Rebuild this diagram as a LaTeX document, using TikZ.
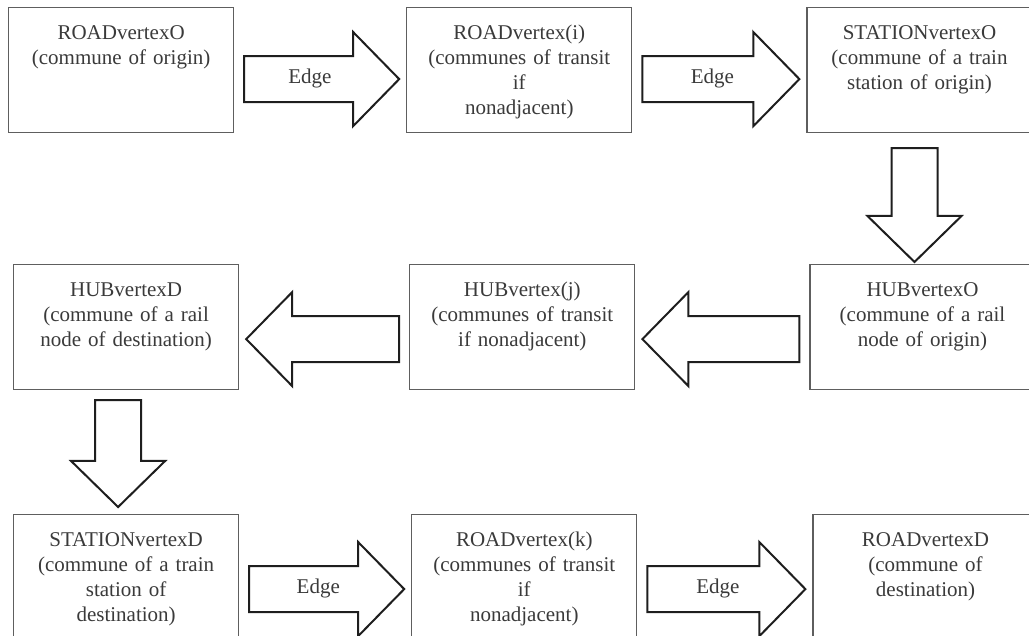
\documentclass[tikz,border=0pt]{standalone}
\usepackage{fontspec}
\setmainfont{Liberation Serif}
\usepackage{tikz}
\usetikzlibrary{calc, positioning}
\definecolor{boxGrey}{HTML}{5E5E5E}
\definecolor{inkDark}{HTML}{1E1E1E}
\definecolor{textGrey}{HTML}{3A3A3A}
\tikzset{
  vbox/.style    = {draw=boxGrey, line width=1.2pt, fill=white, align=center,
                    font=\fontsize{21}{25}\selectfont, text=textGrey,
                    text width=217pt, text height=29pt, text depth=90pt,
                    inner xsep=4pt, inner ysep=3pt},
  fat/.style     = {draw=inkDark, line width=2pt, fill=white,
                    to path={
                      ($(\tikztostart)!10pt!(\tikztotarget)$) coordinate (fs)
                      ($(\tikztotarget)!7pt!(\tikztostart)$) coordinate (ft)
                      ($(ft)!46pt!(fs)$) coordinate (fb)
                      ($(fs)!23pt!90:(ft)$) -- ($(fb)!23pt!90:(ft)$)
                      -- ($(fb)!47pt!90:(ft)$) -- (ft)
                      -- ($(fb)!47pt!-90:(ft)$) -- ($(fb)!23pt!-90:(ft)$)
                      -- ($(fs)!23pt!-90:(ft)$) -- cycle}},
  edgelbl/.style = {font=\fontsize{21}{25}\selectfont, text=textGrey, inner sep=1pt}
}
\begin{document}
\begin{tikzpicture}[x=1pt, y=1pt]
  \useasboundingbox (0,0) rectangle (1029,-636);
  % first row
  \node[vbox, anchor=north west] (ro) at (8,-7) {ROADvertexO\\(commune of origin)};
  \node[vbox, right=172pt of ro] (ri) {ROADvertex(i)\\(communes of transit\\if\\nonadjacent)};
  \node[vbox, right=174pt of ri] (so) {STATIONvertexO\\(commune of a train\\station of origin)};
  % second row
  \node[vbox, anchor=north west] (hd) at (13,-264) {HUBvertexD\\(commune of a rail\\node of destination)};
  \node[vbox, right=170pt of hd] (hj) {HUBvertex(j)\\(communes of transit\\if nonadjacent)};
  \node[vbox, right=174pt of hj] (ho) {HUBvertexO\\(commune of a rail\\node of origin)};
  % third row
  \node[vbox, anchor=north west] (sd) at (13,-514) {STATIONvertexD\\(commune of a train\\station of\\destination)};
  \node[vbox, right=172pt of sd] (rk) {ROADvertex(k)\\(communes of transit\\if\\nonadjacent)};
  \node[vbox, right=175pt of rk] (rd) {ROADvertexD\\(commune of\\destination)};
  % block arrows
  \draw[fat] ([yshift=-9pt]ro.east) to ([yshift=-9pt]ri.west);
  \draw[fat] ([yshift=-9pt]ri.east) to ([yshift=-9pt]so.west);
  \draw[fat] ([xshift=-5pt, yshift=-5pt]so.south) to ([xshift=-5pt, yshift=-5pt]so.south |- ho.north);
  \draw[fat] ([yshift=-12pt]ho.west) to ([yshift=-12pt]hj.east);
  \draw[fat] ([yshift=-12pt]hj.west) to ([yshift=-12pt]hd.east);
  \draw[fat] ([xshift=-8pt]hd.south) to ([xshift=-8pt]sd.north);
  \draw[fat] ([yshift=-12pt]sd.east) to ([yshift=-12pt]rk.west);
  \draw[fat] ([yshift=-12pt]rk.east) to ([yshift=-12pt]rd.west);
  % labels on the arrows
  \node[edgelbl] (e1) at ($([yshift=-8pt]ro.east)!.44!([yshift=-8pt]ri.west)$) {Edge};
  \node[edgelbl] (e2) at ($([yshift=-8pt]ri.east)!.46!([yshift=-8pt]so.west)$) {Edge};
  \node[edgelbl] (e3) at ($([yshift=-11pt]sd.east)!.46!([yshift=-11pt]rk.west)$) {Edge};
  \node[edgelbl] (e4) at ($([yshift=-11pt]rk.east)!.46!([yshift=-11pt]rd.west)$) {Edge};
\end{tikzpicture}
\end{document}
